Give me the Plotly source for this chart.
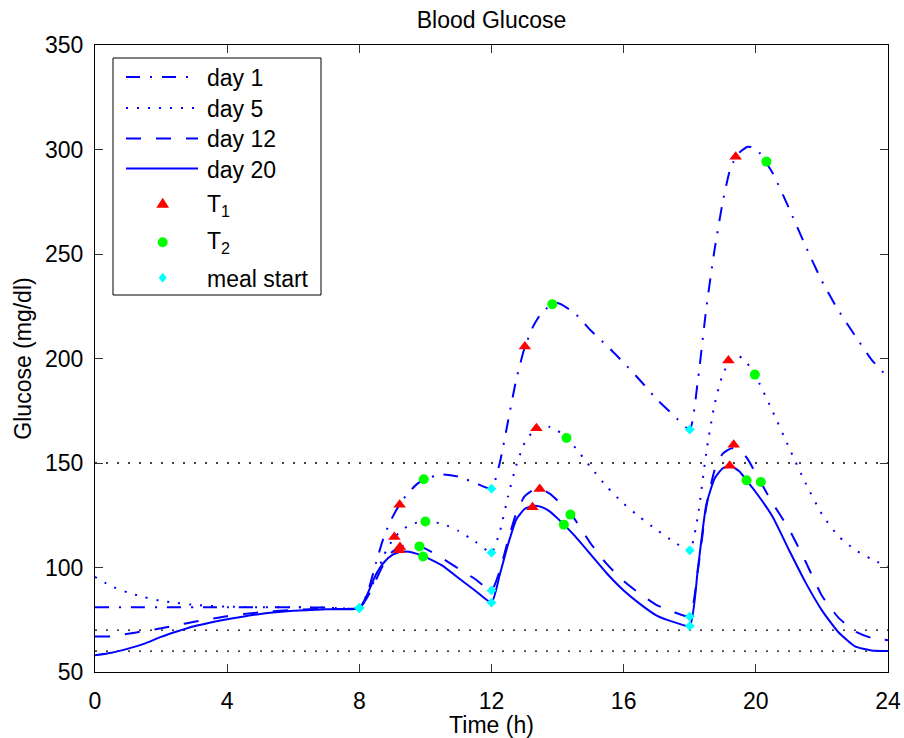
import plotly.graph_objects as go

# ---- data -------------------------------------------------------------
hours = [0, 0.5, 1, 1.5, 2, 2.5, 3, 3.5, 4, 5, 6, 7, 8,
         8.25, 8.5, 8.75, 9, 9.25, 9.5, 9.75, 10, 10.5, 11, 11.5, 12,
         12.25, 12.5, 12.75, 13, 13.25, 13.5, 13.75, 14, 14.5, 15, 15.5, 16, 16.5, 17, 17.5, 18,
         18.25, 18.5, 18.75, 19, 19.25, 19.5, 19.75, 20, 20.5, 21, 21.5, 22, 22.5, 23, 23.5, 24]

day1 = [81, 81, 81, 81, 81, 81, 81, 81, 81, 81, 81, 80.8, 80.6,
        88, 102, 115, 124, 131, 136, 140, 142.5, 144.5, 143.5, 140.5, 137.7,
        150, 170, 190, 205, 215, 221.5, 225, 226.5, 222, 213.5, 206, 198, 189.5, 180.5, 173, 166,
        190, 224, 252, 275, 292, 298.5, 301.3, 300.5, 289, 272, 254, 237, 223, 211, 199.5, 191]

day5 = [95.5, 91, 88, 85.8, 84, 83, 82.1, 81.6, 81.3, 81, 81, 80.8, 80.6,
        86, 96, 106, 113, 117.5, 120, 121.5, 122, 121, 117.5, 112.5, 107.1,
        117, 134, 149, 159.5, 165, 167.3, 167.3, 165.5, 158, 148, 138.5, 130.5, 124, 118, 112.5, 108.2,
        125, 155, 178, 192.5, 199.5, 201, 197.5, 191.5, 175, 157.5, 140.5, 125.5, 115, 108.5, 104, 100.5]

day12 = [67, 67, 68.3, 69.6, 70.9, 72.5, 74, 75.4, 76.7, 78.6, 79.7, 80.2, 80.6,
         86, 94, 102, 107.5, 110, 111, 110.5, 109, 104.5, 99.5, 94.5, 89,
         98.5, 113, 126, 134, 137, 137.5, 135.5, 132, 123.5, 111.5, 101.5, 93.5, 87.3, 82, 78.8, 76.5,
         99, 129, 146.5, 154.5, 157, 156.5, 152, 145, 131, 118.5, 103, 86.5, 76, 69.5, 66.3, 65.2]

day20 = [58, 59.2, 61.2, 63.6, 66.8, 69.5, 71.9, 73.7, 75.2, 77.8, 79.3, 80, 80.6,
         87.5, 96.5, 102.5, 106, 107.5, 107.5, 106.5, 105, 101, 95, 89, 83.2,
         96.5, 111, 123, 128, 129.5, 129, 127, 123.5, 115.5, 106.3, 97, 89, 82.5, 77, 74, 72,
         100, 130, 142.5, 147.5, 148.5, 146, 141, 136, 124.5, 108.5, 93, 79.5, 69, 62.3, 60.3, 60]

# T1 / T2 time points and meal starts (day 1, day 5, day 12, day 20 for each meal)
t1_hours = [9.22, 13.01, 19.39, 9.06, 13.36, 19.17, 9.23, 13.46, 19.33, 9.21, 13.24, 19.21]
t1_glucose = [130, 205.7, 296.5, 114.6, 166.6, 199, 109.8, 137.6, 158.7, 108.2, 128.8, 148.7]
t2_hours = [9.95, 13.84, 20.32, 10.0, 14.27, 19.97, 9.82, 14.39, 20.15, 9.93, 14.19, 19.72]
t2_glucose = [142.2, 226, 294.2, 122, 162, 192.3, 110.1, 125.3, 140.9, 105.3, 120.5, 141.7]
meal_hours = [8, 12, 18, 8, 12, 18, 8, 12, 18, 8, 12, 18]
meal_glucose = [80.6, 137.7, 166, 80.6, 107.1, 108.2, 80.6, 89, 76.5, 80.6, 83.2, 72]

ref_levels = [150, 70, 60]

x_ticks = [0, 4, 8, 12, 16, 20, 24]
y_ticks = [50, 100, 150, 200, 250, 300, 350]

# ---- styling ----------------------------------------------------------
FONT = "Liberation Sans, Arial, Helvetica, sans-serif"
FS = 23
BLUE = "#0000ff"
DASHES = {
    "day 1": "14px,10px,2px,10px",
    "day 5": "2px,9px",
    "day 12": "15px,15px",
    "day 20": "solid",
}

W, H = 904, 738
L, R, T, B = 95, 888, 45, 672  # plot area in pixels


def px(x):
    return (x - L) / (R - L)


def py(y):
    return (B - y) / (B - T)


fig = go.Figure()

for name, vals in [("day 1", day1), ("day 5", day5), ("day 12", day12), ("day 20", day20)]:
    fig.add_trace(go.Scatter(
        x=hours, y=vals, mode="lines", name=name, showlegend=False,
        line=dict(color=BLUE, width=2, dash=DASHES[name], shape="spline", smoothing=0.5),
    ))

fig.add_trace(go.Scatter(x=t1_hours, y=t1_glucose, mode="markers", name="T1", showlegend=False,
                         marker=dict(symbol="triangle-up", size=11, color="#ff0000", line=dict(width=0))))
fig.add_trace(go.Scatter(x=t2_hours, y=t2_glucose, mode="markers", name="T2", showlegend=False,
                         marker=dict(symbol="circle", size=10, color="#00ff00", line=dict(width=0))))
fig.add_trace(go.Scatter(x=meal_hours, y=meal_glucose, mode="markers", name="meal start", showlegend=False,
                         marker=dict(symbol="diamond", size=7.5, color="#00ffff", line=dict(width=0))))

axis_common = dict(
    showline=True, linecolor="black", linewidth=1, mirror="ticks",
    ticks="inside", ticklen=8, tickwidth=1, tickcolor="#333333",
    showgrid=False, zeroline=False,
    tickfont=dict(family=FONT, size=FS, color="black"),
)

fig.update_layout(
    width=W, height=H,
    margin=dict(l=L, r=W - R, t=T, b=H - B, autoexpand=False),
    paper_bgcolor="white", plot_bgcolor="white",
    showlegend=False,
    title=dict(text="Blood Glucose", x=0.5, xref="paper", xanchor="center",
               y=1 - 20 / H, yref="container", yanchor="middle",
               font=dict(family=FONT, size=FS, color="black")),
    xaxis=dict(range=[0, 24], tickvals=x_ticks, ticktext=[str(v) for v in x_ticks],
               title=dict(text="Time (h)", standoff=4, font=dict(family=FONT, size=FS, color="black")),
               ticklabelstandoff=8, **axis_common),
    yaxis=dict(range=[50, 350], tickvals=y_ticks, ticktext=[str(v) for v in y_ticks],
               title=dict(text="Glucose (mg/dl)", standoff=6, font=dict(family=FONT, size=FS, color="black")),
               ticklabelstandoff=6, **axis_common),
)

# dotted reference levels across the whole time span
for level in ref_levels:
    fig.add_hline(y=level, line=dict(color="black", width=1.3, dash="2px,9px"), layer="below")

# ---- legend box -------------------------------------------------------
fig.add_shape(type="rect", xref="paper", yref="paper", x0=px(113), x1=px(321), y0=py(295), y1=py(58),
              line=dict(color="black", width=1), fillcolor="white", layer="above")

line_rows = [("day 1", 77), ("day 5", 108), ("day 12", 138.5), ("day 20", 168.5)]
for name, yy in line_rows:
    fig.add_shape(type="line", xref="paper", yref="paper", x0=px(126), x1=px(198), y0=py(yy), y1=py(yy),
                  line=dict(color=BLUE, width=2, dash=DASHES[name]), layer="above")
    fig.add_annotation(text=name, xref="paper", yref="paper", x=px(205), y=py(yy + 1),
                       xanchor="left", yanchor="middle", showarrow=False,
                       font=dict(family=FONT, size=FS, color="black"))

cx = 162.7
ty = 202.7
fig.add_shape(type="path", xref="paper", yref="paper",
              path=f"M{px(cx-6.4)},{py(ty+5)} L{px(cx+6.4)},{py(ty+5)} L{px(cx)},{py(ty-5)} Z",
              fillcolor="#ff0000", line=dict(width=0), layer="above")
cy = 242.3
fig.add_shape(type="circle", xref="paper", yref="paper", x0=px(cx-5), x1=px(cx+5), y0=py(cy+5), y1=py(cy-5),
              fillcolor="#00ff00", line=dict(width=0), layer="above")
dy = 277.7
fig.add_shape(type="path", xref="paper", yref="paper",
              path=f"M{px(cx)},{py(dy-5)} L{px(cx+4)},{py(dy)} L{px(cx)},{py(dy+5)} L{px(cx-4)},{py(dy)} Z",
              fillcolor="#00ffff", line=dict(width=0), layer="above")

for text, yy in [("T<sub>1</sub>", 205), ("T<sub>2</sub>", 242), ("meal start", 278.5)]:
    fig.add_annotation(text=text, xref="paper", yref="paper", x=px(205), y=py(yy),
                       xanchor="left", yanchor="middle", showarrow=False,
                       font=dict(family=FONT, size=FS, color="black"))

fig.write_html("out.html")
